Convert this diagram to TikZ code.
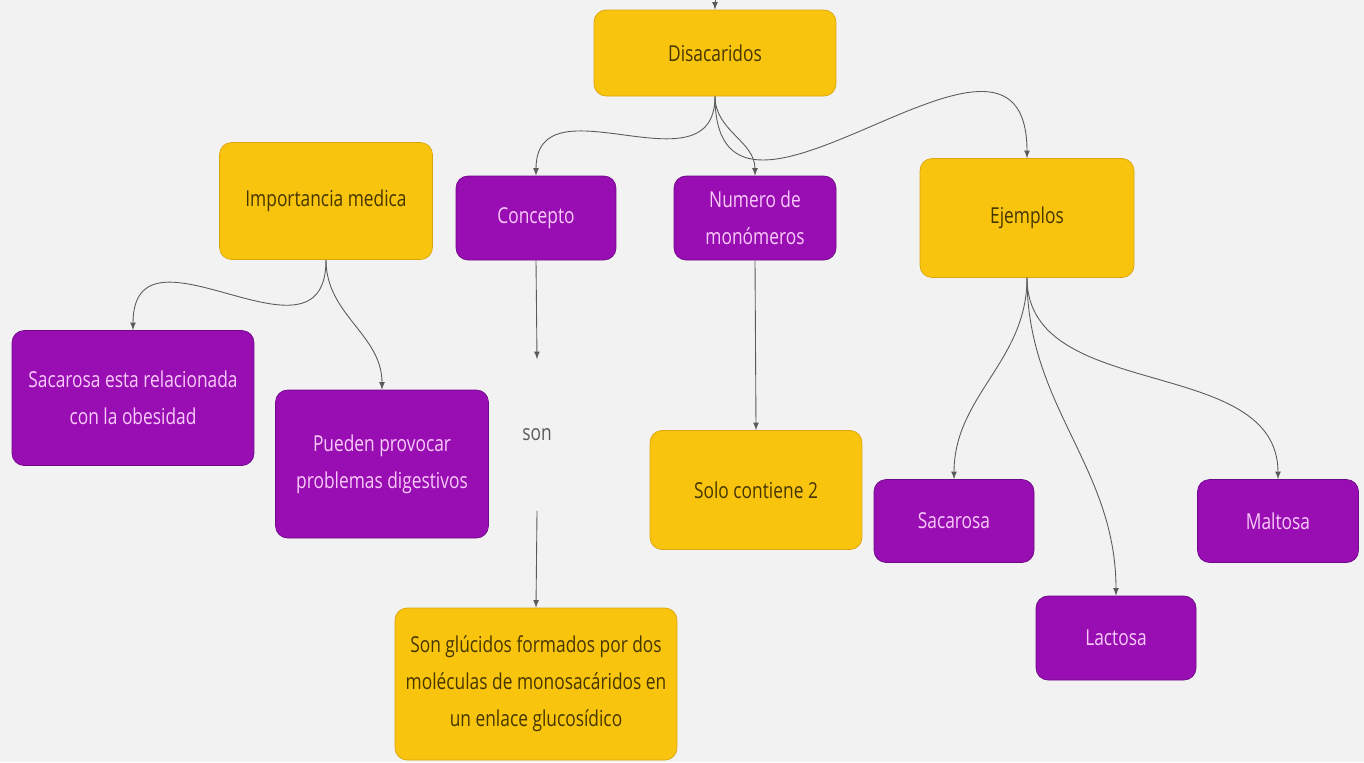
\documentclass[tikz,border=0pt]{standalone}
\usepackage{fontspec}
\setmainfont{Open Sans}[FakeStretch=0.79]
\usetikzlibrary{arrows,shapes}

\definecolor{bgcol}{RGB}{242,242,242}
\definecolor{ylw}{RGB}{248,196,14}
\definecolor{ylwline}{RGB}{218,165,10}
\definecolor{ylwtext}{RGB}{70,54,0}
\definecolor{prp}{RGB}{153,14,178}
\definecolor{prpline}{RGB}{110,10,135}
\definecolor{prptext}{RGB}{250,202,250}
\definecolor{linegray}{RGB}{90,90,90}

\begin{document}
\begin{tikzpicture}[x=0.02cm,y=-0.02cm,
  yellowbox/.style={draw=ylwline, fill=ylw, text=ylwtext, rounded corners=0.24cm,
    align=center, inner sep=0pt, font=\fontsize{12.5}{21}\selectfont},
  purplebox/.style={draw=prpline, fill=prp, text=prptext, rounded corners=0.24cm,
    align=center, inner sep=0pt, font=\fontsize{12.5}{21}\selectfont},
  conn/.style={->, >=latex, draw=linegray, line width=0.5pt}]

% Background
\fill[bgcol] (0,0) rectangle (1364,762);
\useasboundingbox (0,0) rectangle (1364,762);

% Top level
\node[yellowbox, minimum width=4.84cm, minimum height=1.72cm] (dis) at (715,53) {Disacaridos};
\coordinate (entry) at (715,0);

% Second level
\node[yellowbox, minimum width=4.26cm, minimum height=2.34cm] (imp) at (326,201) {Importancia medica};
\node[purplebox, minimum width=3.2cm, minimum height=1.68cm] (con) at (536,218) {Concepto};
\node[purplebox, minimum width=3.24cm, minimum height=1.68cm] (num) at (755,218) {Numero de\\monómeros};
\node[yellowbox, minimum width=4.28cm, minimum height=2.38cm] (eje) at (1027,218) {Ejemplos};

% Medical importance
\node[purplebox, minimum width=4.84cm, minimum height=2.7cm] (obe) at (133,398) {Sacarosa esta relacionada\\con la obesidad};
\node[purplebox, minimum width=4.26cm, minimum height=2.96cm] (dig) at (382,464) {Pueden provocar\\problemas digestivos};

% Concept
\node[minimum width=1.2cm, minimum height=3.02cm, text=linegray,
  font=\fontsize{12.5}{21}\selectfont] (son) at (537,435) {son};
\node[yellowbox, minimum width=5.64cm, minimum height=3.04cm] (glu) at (536,684)
  {Son glúcidos formados por dos\\moléculas de monosacáridos en\\un enlace glucosídico};

% Monomers
\node[yellowbox, minimum width=4.24cm, minimum height=2.38cm] (dos) at (756,490) {Solo contiene 2};

% Examples
\node[purplebox, minimum width=3.2cm, minimum height=1.66cm] (sac) at (954,521) {Sacarosa};
\node[purplebox, minimum width=3.2cm, minimum height=1.68cm] (lac) at (1116,638) {Lactosa};
\node[purplebox, minimum width=3.22cm, minimum height=1.66cm] (mal) at (1278,521) {Maltosa};

% Connectors
\draw[conn] (entry) -- (dis.north);
\draw[conn] (dis.south) to [out=-90,in=90,looseness=1.3] (con.north);
\draw[conn] (dis.south) to [out=-90,in=90] (num.north);
\draw[conn] (dis.south) to [out=-90,in=90,looseness=1.55] (eje.north);

\draw[conn] (imp.south) to [out=-90,in=90,looseness=1.5] (obe.north);
\draw[conn] (imp.south) to [out=-90,in=90] (dig.north);

\draw[conn] (con.south) -- (son.north);
\draw[conn] (son.south) -- (glu.north);
\draw[conn] (num.south) -- (dos.north);

\draw[conn] (eje.south) to [out=-90,in=90] (sac.north);
\draw[conn] (eje.south) to [out=-90,in=90] (lac.north);
\draw[conn] (eje.south) to [out=-90,in=90] (mal.north);

\end{tikzpicture}
\end{document}
